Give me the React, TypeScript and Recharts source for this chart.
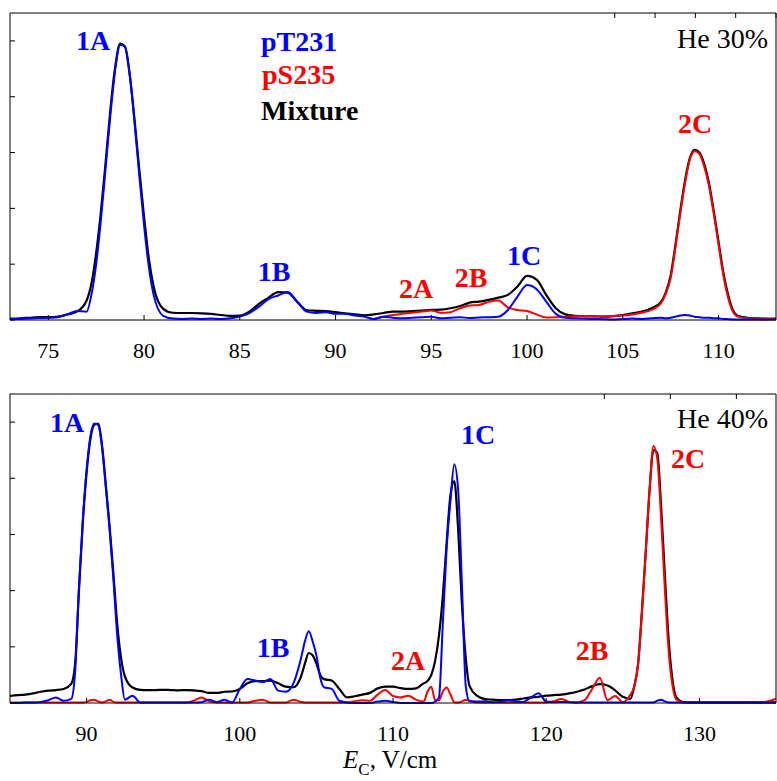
import { LineChart, Line, XAxis, YAxis } from "recharts";

const serif = '"Liberation Serif", "Times New Roman", Times, serif';
const BLUE = "#0000ff";
const RED = "#ff0000";
const TICK = 5;

// He 30% panel
const topX = [
  73, 73.5, 74, 74.5, 75, 75.5, 76, 76.5,
  77, 77.25, 77.5, 77.75, 78, 78.25, 78.5, 78.75,
  79, 79.25, 79.5, 79.75, 80, 80.25, 80.5, 81,
  81.5, 82, 82.5, 83, 83.5, 84, 84.5, 85,
  85.5, 86, 86.5, 87, 87.5, 88, 88.5, 89,
  89.5, 90, 90.5, 91, 91.5, 92, 92.5, 93,
  93.5, 94, 94.5, 95, 95.5, 96, 96.5, 97,
  97.5, 98, 98.5, 99, 99.5, 100, 100.5, 101,
  101.5, 102, 102.5, 103, 103.5, 104, 104.5, 105,
  105.5, 106, 106.5, 107, 107.25, 107.5, 107.75, 108,
  108.25, 108.5, 108.75, 109, 109.25, 109.5, 109.75, 110,
  110.25, 110.5, 110.75, 111, 111.5, 112, 112.5, 113,
];
const topMix = [
  0.005, 0.006, 0.008, 0.01, 0.01, 0.012, 0.02, 0.03,
  0.07, 0.13, 0.24, 0.39, 0.57, 0.76, 0.91, 0.99,
  0.98, 0.88, 0.72, 0.54, 0.37, 0.22, 0.12, 0.04,
  0.026, 0.025, 0.025, 0.024, 0.022, 0.018, 0.015, 0.016,
  0.03, 0.058, 0.08, 0.1, 0.098, 0.065, 0.035, 0.033,
  0.032, 0.028, 0.024, 0.02, 0.017, 0.02, 0.025, 0.03,
  0.03, 0.032, 0.034, 0.036, 0.037, 0.042, 0.05, 0.062,
  0.066, 0.072, 0.08, 0.09, 0.12, 0.158, 0.145, 0.09,
  0.042, 0.02, 0.015, 0.014, 0.013, 0.012, 0.014, 0.018,
  0.024, 0.03, 0.042, 0.065, 0.1, 0.16, 0.27, 0.39,
  0.5, 0.58, 0.61, 0.6, 0.56, 0.49, 0.39, 0.28,
  0.17, 0.09, 0.035, 0.015, 0.008, 0.006, 0.005, 0.004,
];
const topPT231 = [
  0.004, 0.004, 0.005, 0.007, 0.008, 0.01, 0.02, 0.032,
  0.03, 0.09, 0.2, 0.36, 0.55, 0.74, 0.9, 0.985,
  0.98, 0.88, 0.71, 0.52, 0.34, 0.19, 0.09, 0.015,
  0.005, 0.004, 0.005, 0.004, 0.005, 0.004, 0.006, 0.012,
  0.025, 0.048, 0.075, 0.088, 0.1, 0.065, 0.03, 0.025,
  0.028, 0.022, 0.022, 0.016, 0.012, 0.004, 0.012, 0.008,
  0.006, 0.008, 0.01, 0.012, 0.006, 0.008, 0.01, 0.007,
  0.009, 0.01, 0.012, 0.036, 0.084, 0.125, 0.11, 0.066,
  0.022, 0.008, 0.006, 0.005, 0.004, 0.003, 0.002, 0.004,
  0.005, 0.004, 0.006, 0.008, 0.006, 0.008, 0.012, 0.016,
  0.018, 0.016, 0.012, 0.01, 0.008, 0.008, 0.006, 0.006,
  0.004, 0.003, 0.002, 0.002, 0.002, 0.002, 0.002, 0.002,
];
const topPS235 = [
  null, null, null, null, null, null, null, null,
  null, null, null, null, null, null, null, null,
  null, null, null, null, null, null, null, null,
  null, null, null, null, null, null, null, null,
  null, null, null, null, null, null, null, null,
  null, null, null, null, null, 0.003, 0.012, 0.018,
  0.022, 0.026, 0.03, 0.034, 0.026, 0.028, 0.042, 0.052,
  0.054, 0.065, 0.07, 0.045, 0.036, 0.032, 0.02, 0.009,
  0.01, 0.012, 0.013, 0.014, 0.013, 0.013, 0.014, 0.016,
  0.02, 0.026, 0.036, 0.06, 0.095, 0.15, 0.26, 0.38,
  0.49, 0.575, 0.605, 0.595, 0.55, 0.48, 0.38, 0.27,
  0.16, 0.08, 0.03, 0.012, 0.006, 0.004, 0.003, 0.006,
];

// He 40% panel
const botX = [
  85, 85.5, 86, 86.5, 87, 87.5, 88, 88.5,
  89, 89.25, 89.5, 89.75, 90, 90.25, 90.5, 90.75,
  91, 91.25, 91.5, 91.75, 92, 92.25, 92.5, 93,
  93.5, 94, 94.5, 95, 95.5, 96, 96.5, 97,
  97.5, 98, 98.5, 99, 99.5, 100, 100.5, 101,
  101.5, 102, 102.5, 103, 103.5, 104, 104.25, 104.5,
  104.75, 105, 105.25, 105.5, 106, 106.5, 107, 107.5,
  108, 108.5, 109, 109.5, 110, 110.5, 111, 111.5,
  112, 112.25, 112.5, 112.75, 113, 113.25, 113.5, 113.75,
  114, 114.25, 114.5, 114.75, 115, 115.5, 116, 116.5,
  117, 117.5, 118, 118.5, 119, 119.5, 120, 120.5,
  121, 121.5, 122, 122.5, 123, 123.5, 124, 124.5,
  125, 125.5, 125.75, 126, 126.25, 126.5, 126.75, 127,
  127.25, 127.5, 127.75, 128, 128.25, 128.5, 129, 130,
  131, 132, 133, 134, 135,
];
const botMix = [
  0.025, 0.028, 0.03, 0.034, 0.04, 0.044, 0.046, 0.05,
  0.068, 0.14, 0.4, 0.64, 0.82, 0.94, 0.99, 0.995,
  0.92, 0.78, 0.63, 0.46, 0.28, 0.16, 0.095, 0.055,
  0.047, 0.046, 0.046, 0.047, 0.046, 0.045, 0.046, 0.045,
  0.042, 0.036, 0.036, 0.04, 0.041, 0.05, 0.07, 0.078,
  0.078, 0.08, 0.07, 0.058, 0.056, 0.095, 0.14, 0.178,
  0.17, 0.14, 0.1, 0.085, 0.08, 0.05, 0.02, 0.024,
  0.03, 0.036, 0.052, 0.058, 0.058, 0.053, 0.05, 0.052,
  0.07, 0.078, 0.1, 0.15, 0.24, 0.38, 0.57, 0.74,
  0.79, 0.62, 0.35, 0.16, 0.06, 0.025, 0.014, 0.012,
  0.01, 0.01, 0.012, 0.016, 0.02, 0.022, 0.026, 0.028,
  0.03, 0.034, 0.04, 0.048, 0.06, 0.067, 0.062, 0.045,
  0.022, 0.015, 0.06, 0.14, 0.33, 0.54, 0.76, 0.9,
  0.89, 0.7, 0.45, 0.22, 0.08, 0.02, 0.003, 0.002,
  0.002, 0.002, 0.002, 0.002, 0.002,
];
const botPT231 = [
  0, 0, 0.002, 0.002, 0.004, 0.01, 0.02, 0.008,
  0.015, 0.11, 0.41, 0.65, 0.83, 0.95, 0.995, 0.99,
  0.915, 0.77, 0.62, 0.44, 0.24, 0.1, 0.012, 0.026,
  0.002, 0.002, 0.002, 0.002, 0.002, 0.002, 0.002, 0.002,
  0.003, 0.012, 0.003, 0.012, 0.002, 0.05, 0.085, 0.08,
  0.075, 0.085, 0.044, 0.04, 0.07, 0.16, 0.22, 0.255,
  0.22, 0.17, 0.09, 0.056, 0.05, 0.008, 0.002, 0,
  0, 0, 0.005, 0.008, 0.004, 0, 0, 0,
  0, 0, 0, 0.005, 0.02, 0.28, 0.55, 0.72,
  0.85, 0.76, 0.42, 0.06, 0.006, 0.005, 0.006, 0.003,
  0.004, 0.01, 0.006, 0.004, 0.02, 0.035, 0.005, 0.003,
  0.004, 0.003, 0.002, 0.002, 0.002, 0.002, 0.002, 0.002,
  0.002, 0.002, 0.002, 0.002, 0.002, 0.002, 0.002, 0.002,
  0.008, 0.012, 0.006, 0.002, 0.002, 0.002, 0.002, 0.002,
  0.002, 0.002, 0.002, 0.002, 0.002,
];
const botPS235 = [
  0.002, 0.002, 0.002, 0.002, 0.002, 0.002, 0.002, 0.002,
  0.002, 0.002, 0.002, 0.002, 0.004, 0.01, 0.012, 0.006,
  0.002, 0.006, 0.012, 0.004, 0.002, 0.002, 0.002, 0.002,
  0.002, 0.002, 0.002, 0.002, 0.002, 0.002, 0.002, 0.008,
  0.02, 0.006, 0.002, 0.002, 0.002, 0.002, 0.002, 0.008,
  0.012, 0.002, 0.002, 0.002, 0.012, 0.004, 0.002, 0.002,
  0.002, 0.002, 0.002, 0.002, 0.002, 0.002, 0.002, 0.006,
  0.01, 0.008, 0.03, 0.046, 0.025, 0.02, 0.026, 0.012,
  0.005, 0.04, 0.058, 0.01, 0.01, 0.04, 0.055, 0.03,
  0.003, 0.002, 0.006, 0.012, 0.008, 0.002, 0.002, 0.002,
  0.002, 0.002, 0.002, 0.002, 0.002, 0.002, 0.002, 0.006,
  0.014, 0.004, 0.002, 0.01, 0.05, 0.09, 0.01, 0.025,
  0.003, 0.03, 0.06, 0.14, 0.32, 0.54, 0.76, 0.915,
  0.87, 0.66, 0.4, 0.18, 0.06, 0.012, 0.002, 0.002,
  0.002, 0.002, 0.002, 0.002, 0.015,
];

const topTicks = [75, 80, 85, 90, 95, 100, 105, 110];
const botTicks = [90, 100, 110, 120, 130];
const yTicks = [0, 0.2, 0.4, 0.6, 0.8, 1];

const topData = topX.map((x, i) => ({ x, mix: topMix[i], pT231: topPT231[i], pS235: topPS235[i] }));
const botData = botX.map((x, i) => ({ x, mix: botMix[i], pT231: botPT231[i], pS235: botPS235[i] }));

// inward MATLAB-style ticks; x/y come from the axis scale
function BottomTick(props: any) {
  const { x, y, payload } = props;
  return (
    <g>
      <line x1={x} x2={x} y1={y} y2={y - TICK} stroke="#000" />
      <text x={x} y={y + 38} textAnchor="middle" fill="#000" fontSize={22} fontFamily={serif}>
        {payload.value}
      </text>
    </g>
  );
}
function TopTick(props: any) {
  const { x, y } = props;
  return <line x1={x} x2={x} y1={y} y2={y + TICK} stroke="#000" />;
}
function LeftTick(props: any) {
  const { x, y } = props;
  return <line x1={x} x2={x + TICK} y1={y} y2={y} stroke="#000" />;
}
function RightTick(props: any) {
  const { x, y } = props;
  return <line x1={x} x2={x - TICK} y1={y} y2={y} stroke="#000" />;
}

interface PanelProps {
  data: { x: number; mix: number; pT231: number; pS235: number | null }[];
  xDomain: [number, number];
  xTicks: number[];
  height: number;
  bottom: number;
}

function Panel({ data, xDomain, xTicks, height, bottom }: PanelProps) {
  return (
    <LineChart width={777} height={height} data={data} margin={{ top: 12, right: 0, left: 9, bottom }}>
      <XAxis
        dataKey="x"
        type="number"
        domain={xDomain}
        ticks={xTicks}
        interval={0}
        height={40}
        stroke="#000"
        tickLine={false}
        tickSize={0}
        tickMargin={0}
        tick={<BottomTick />}
      />
      <XAxis
        xAxisId="top"
        orientation="top"
        type="number"
        domain={xDomain}
        ticks={xTicks}
        interval={0}
        height={1}
        stroke="#000"
        tickLine={false}
        tickSize={0}
        tickMargin={0}
        tick={<TopTick />}
      />
      <YAxis
        type="number"
        domain={[0, 1.1]}
        ticks={yTicks}
        interval={0}
        width={1}
        stroke="#000"
        tickLine={false}
        tickSize={0}
        tickMargin={0}
        tick={<LeftTick />}
      />
      <YAxis
        yAxisId="right"
        orientation="right"
        type="number"
        domain={[0, 1.1]}
        ticks={yTicks}
        interval={0}
        width={1}
        stroke="#000"
        tickLine={false}
        tickSize={0}
        tickMargin={0}
        tick={<RightTick />}
      />
      <Line type="monotone" dataKey="mix" stroke="#000" strokeWidth={2.2} dot={false} isAnimationActive={false} />
      <Line type="monotone" dataKey="pS235" stroke={RED} strokeWidth={2} dot={false} isAnimationActive={false} />
      <Line type="monotone" dataKey="pT231" stroke={BLUE} strokeWidth={2} dot={false} isAnimationActive={false} />
    </LineChart>
  );
}

const bold = { fontFamily: serif, fontSize: 28, fontWeight: 700 } as const;

export default function App() {
  return (
    <div style={{ position: "absolute", left: 0, top: 0, width: 777, height: 781, background: "#fff" }}>
      <div style={{ position: "absolute", left: 0, top: 0 }}>
        <Panel data={topData} xDomain={[73, 113]} xTicks={topTicks} height={370} bottom={10} />
      </div>
      <div style={{ position: "absolute", left: 0, top: 381 }}>
        <Panel data={botData} xDomain={[85, 135]} xTicks={botTicks} height={400} bottom={38} />
      </div>
      <svg width={777} height={781} style={{ position: "absolute", left: 0, top: 0, pointerEvents: "none" }}>
        <g style={bold} textAnchor="middle">
          <text x={93} y={50} fill={BLUE}>1A</text>
          <text x={274} y={281} fill={BLUE}>1B</text>
          <text x={416} y={298} fill={RED}>2A</text>
          <text x={471} y={287} fill={RED}>2B</text>
          <text x={524} y={265} fill={BLUE}>1C</text>
          <text x={695} y={133} fill={RED}>2C</text>
          <text x={67} y={432} fill={BLUE}>1A</text>
          <text x={273} y={657} fill={BLUE}>1B</text>
          <text x={408} y={670} fill={RED}>2A</text>
          <text x={592} y={660} fill={RED}>2B</text>
          <text x={478} y={444} fill={BLUE}>1C</text>
          <text x={688} y={468} fill={RED}>2C</text>
        </g>
        <g style={bold}>
          <text x={261} y={51} fill={BLUE}>pT231</text>
          <text x={262} y={84} fill={RED}>pS235</text>
          <text x={261} y={120} fill="#000">Mixture</text>
        </g>
        <g style={{ fontFamily: serif, fontSize: 28 }} textAnchor="end">
          <text x={768} y={48}>He 30%</text>
          <text x={768} y={428}>He 40%</text>
        </g>
        <text x={343} y={768} style={{ fontFamily: serif, fontSize: 25 }}>
          <tspan fontStyle="italic">E</tspan>
          <tspan fontSize={17} dy={7}>C</tspan>
          <tspan dy={-7}>, V/cm</tspan>
        </text>
      </svg>
    </div>
  );
}
